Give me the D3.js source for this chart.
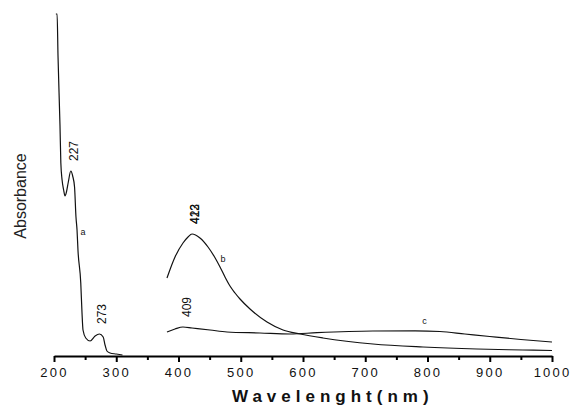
<!DOCTYPE html>
<html>
<head>
<meta charset="utf-8">
<script src="https://d3js.org/d3.v7.min.js"></script>
<style>
body { margin: 0; background: #fff; }
svg { display: block; font-family: "Liberation Sans", Arial, sans-serif; }
</style>
</head>
<body>
<svg id="chart" width="570" height="410"></svg>
<script>
// curve a (UV region)
const waveA = [203, 205, 206.4, 209.6, 211, 213, 215.5, 217.7, 220, 223, 227, 230, 233, 235.3, 237, 238.5, 243, 245, 246.6, 251, 258, 266, 273, 279, 282, 285, 290, 300, 310];
const absA  = [3.42, 3.42, 3.01, 2.31, 1.93, 1.76, 1.66, 1.60, 1.64, 1.74, 1.85, 1.80, 1.69, 1.39, 1.26, 1.06, 0.73, 0.43, 0.26, 0.18, 0.15, 0.20, 0.22, 0.19, 0.11, 0.05, 0.03, 0.02, 0.01];

// curve b
const waveB = [381.5, 394.4, 407.2, 415.3, 421.7, 434.5, 447.4, 457, 466.7, 474.7, 482.7, 490.8, 498.8, 514.9, 542.2, 567.9, 595.2, 632, 712.4, 792.8, 879.5, 953.4, 1000];
const absB  = [0.78, 0.99, 1.13, 1.19, 1.22, 1.18, 1.09, 1.00, 0.89, 0.79, 0.70, 0.63, 0.57, 0.47, 0.34, 0.26, 0.22, 0.18, 0.12, 0.09, 0.07, 0.06, 0.055];

// curve c
const waveC = [381.5, 394.4, 407.2, 421.7, 450.6, 477.9, 530.9, 579.1, 622.5, 712.4, 780, 820, 860, 900, 950, 1000];
const absC  = [0.24, 0.27, 0.29, 0.28, 0.26, 0.24, 0.23, 0.22, 0.233, 0.25, 0.252, 0.245, 0.22, 0.195, 0.165, 0.14];

// peak annotations (two labels printed on top of each other near 423)
const peakText = ["227", "273", "409", "423", "412"];
const peakWave = [227, 273, 409, 421.7, 421.7];
const peakAbs  = [1.85, 0.22, 0.29, 1.22, 1.22];

// curve letters
const curveNames = ["a", "b", "c"];
const nameWave = [246.6, 471.5, 795];
const nameAbs  = [1.24, 0.97, 0.35];

const majorTicks = [200, 300, 400, 500, 600, 700, 800, 900, 1000];
const minorTicks = [250, 350, 450, 550, 650, 750, 850, 950];

const svg = d3.select("#chart");

const x = d3.scaleLinear().domain([200, 1000]).range([54, 552]);
const y = d3.scaleLinear().domain([0, 3.42]).range([356, 14]);

const line = d3.line()
  .x(d => x(d[0]))
  .y(d => y(d[1]))
  .curve(d3.curveMonotoneX);

const series = [
  d3.zip(waveA, absA),
  d3.zip(waveB, absB),
  d3.zip(waveC, absC)
];

svg.selectAll("path.curve")
  .data(series)
  .enter()
  .append("path")
  .attr("class", "curve")
  .attr("d", line)
  .attr("fill", "none")
  .attr("stroke", "#111")
  .attr("stroke-width", 1.2);

// x axis
const axis = svg.append("g").attr("transform", "translate(0,356)");
axis.call(d3.axisBottom(x).tickValues(majorTicks).tickSize(6).tickSizeOuter(0).tickFormat(d3.format("d")));
axis.select(".domain").attr("stroke", "#000").attr("stroke-width", 2);
axis.selectAll(".tick line").attr("stroke", "#000").attr("stroke-width", 2);
axis.selectAll(".tick text")
  .attr("y", 21)
  .attr("dy", 0)
  .attr("font-family", "Liberation Sans, Arial, sans-serif")
  .attr("font-size", 13)
  .attr("letter-spacing", "2.2px")
  .attr("fill", "#111");

const minor = svg.append("g").attr("transform", "translate(0,356)");
minor.call(d3.axisBottom(x).tickValues(minorTicks).tickSize(4).tickFormat(""));
minor.select(".domain").remove();
minor.selectAll(".tick line").attr("stroke", "#000").attr("stroke-width", 2);

// axis titles
svg.append("text")
  .attr("x", 232)
  .attr("y", 402)
  .attr("font-size", 17)
  .attr("font-weight", "bold")
  .attr("letter-spacing", "5px")
  .attr("fill", "#111")
  .text("Wavelenght(nm)");

svg.append("text")
  .attr("transform", "translate(26,196) rotate(-90)")
  .attr("text-anchor", "middle")
  .attr("font-size", 16)
  .attr("fill", "#222")
  .text("Absorbance");

// peak labels
svg.selectAll("text.peak")
  .data(d3.zip(peakText, peakWave, peakAbs))
  .enter()
  .append("text")
  .attr("class", "peak")
  .attr("transform", d => `translate(${x(d[1]) + 3},${y(d[2]) - 20}) rotate(-90)`)
  .attr("text-anchor", "middle")
  .attr("dominant-baseline", "central")
  .attr("font-family", "Liberation Sans Narrow, Liberation Sans, Arial, sans-serif")
  .attr("font-size", 12)
  .attr("fill", "#111")
  .text(d => d[0]);

// curve letters
svg.selectAll("text.name")
  .data(d3.zip(curveNames, nameWave, nameAbs))
  .enter()
  .append("text")
  .attr("class", "name")
  .attr("x", d => x(d[1]))
  .attr("y", d => y(d[2]))
  .attr("text-anchor", "middle")
  .attr("dominant-baseline", "central")
  .attr("font-size", 9)
  .attr("fill", "#111")
  .text(d => d[0]);
</script>
</body>
</html>
